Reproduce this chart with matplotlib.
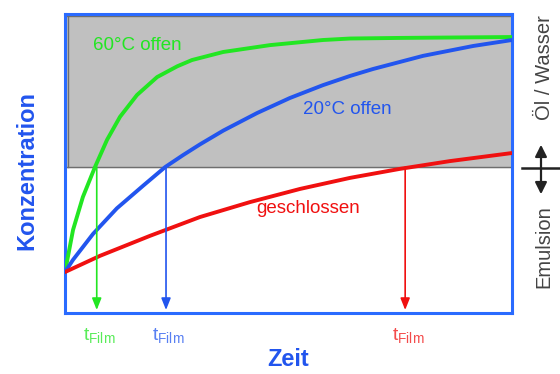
import matplotlib
matplotlib.use("Agg")
import matplotlib.pyplot as plt
from matplotlib.patches import FancyArrowPatch

plt.rcParams["font.family"] = ["Liberation Sans", "DejaVu Sans"]
plt.rcParams["mathtext.fontset"] = "custom"
plt.rcParams["mathtext.rm"] = "Liberation Sans"

# Werte (Zeit 0..100, Konzentration 0..100, willkürliche Einheiten)
t_60 = [0, 1.8, 4.0, 6.7, 9.4, 12.3, 16.1, 20.6, 25.1, 28.4, 35.4, 45.9, 57.7, 63.8, 74.9, 100]
c_60 = [13.7, 27.8, 38.8, 48.8, 57.9, 65.6, 72.9, 78.9, 82.5, 84.6, 87.3, 89.6, 91.3, 91.8, 92.0, 92.3]

t_20 = [0, 1.8, 6.3, 11.6, 17.5, 22.4, 26.4, 30.2, 35.4, 43.0, 50.3, 57.7, 63.8, 68.9, 80.1, 91.3, 100]
c_20 = [13.7, 17.8, 26.5, 35.0, 42.6, 48.8, 52.8, 56.4, 61.0, 66.9, 71.9, 76.2, 79.3, 81.6, 86.0, 89.3, 91.3]

t_zu = [0, 7.8, 19.0, 30.2, 41.4, 52.6, 63.8, 74.9, 86.1, 100]
c_zu = [13.7, 19.1, 25.8, 32.1, 37.1, 41.5, 45.2, 48.2, 50.8, 53.5]

schwelle = 48.8                      # Grenze Emulsion / Öl-Wasser
t_film = [7.1, 22.6, 76.1]           # grün, blau, rot

GRUEN, BLAU, ROT = "#22e622", "#2255ee", "#f01010"
RAHMEN = "#2a6bff"

fig = plt.figure(figsize=(5.6, 3.74), dpi=100)
ax = fig.add_axes([65/560, 1 - 313/374, 447/560, 299/374])
ax.set_xlim(0, 100); ax.set_ylim(0, 100)

ax.axhspan(schwelle, 100, color="#c0c0c0", zorder=0)
ax.axhline(schwelle, color="#6e6e6e", lw=1.0, zorder=1)
ax.plot([0, 100], [99.2, 99.2], color="#6e6e6e", lw=1.0, zorder=1)
ax.plot([0.7, 0.7], [schwelle, 100], color="#6e6e6e", lw=1.0, zorder=1)

for t, c, col in [(t_60, c_60, GRUEN), (t_20, c_20, BLAU), (t_zu, c_zu, ROT)]:
    ax.plot(t, c, color=col, lw=2.8, solid_capstyle="round",
            solid_joinstyle="round", zorder=3)

for tf, col in zip(t_film, [GRUEN, BLAU, ROT]):
    ax.annotate("", xy=(tf, 1.0), xytext=(tf, schwelle), zorder=4,
                arrowprops=dict(arrowstyle="-|>,head_length=0.7,head_width=0.28",
                                color=col, lw=1.2, shrinkA=0, shrinkB=0))
    ax.text(tf + 0.6, -7.8, r"t$_{\mathregular{Film}}$", color=col, fontsize=14,
            ha="center", va="center", clip_on=False, alpha=0.75)

ax.text(6.3, 89.6, "60°C offen", color=GRUEN, fontsize=13.5, va="center")
ax.text(53.3, 68.0, "20°C offen", color=BLAU, fontsize=13.5, va="center")
ax.text(42.8, 35.0, "geschlossen", color=ROT, fontsize=13.5, va="center")

for s in ax.spines.values():
    s.set_color(RAHMEN); s.set_linewidth(2.2)
ax.set_xticks([]); ax.set_yticks([])

fig.text(288/560, 1 - 360/374, "Zeit", color=BLAU, fontsize=17, fontweight="bold",
         ha="center", va="center")
fig.text(27/560, 1 - 170/374, "Konzentration", color=BLAU, fontsize=17,
         fontweight="bold", rotation=90, ha="center", va="center")
fig.text(545/560, 1 - 68/374, "Öl / Wasser", color="#444444", fontsize=14.5,
         rotation=90, ha="center", va="center")
fig.text(544/560, 1 - 247/374, "Emulsion", color="#444444", fontsize=14.5,
         rotation=90, ha="center", va="center")

# Symbol rechts: Linie mit Doppelpfeil
fig.add_artist(plt.Line2D([522/560, 560/560], [1 - 168/374, 1 - 168/374],
                          color="#222222", lw=1.8))
fig.add_artist(FancyArrowPatch(
    (541/560, 1 - 197/374), (541/560, 1 - 142/374), transform=fig.transFigure,
    arrowstyle="<|-|>,head_length=7,head_width=3.5", color="#222222", lw=1.6))

fig.savefig("out.png", dpi=100)
